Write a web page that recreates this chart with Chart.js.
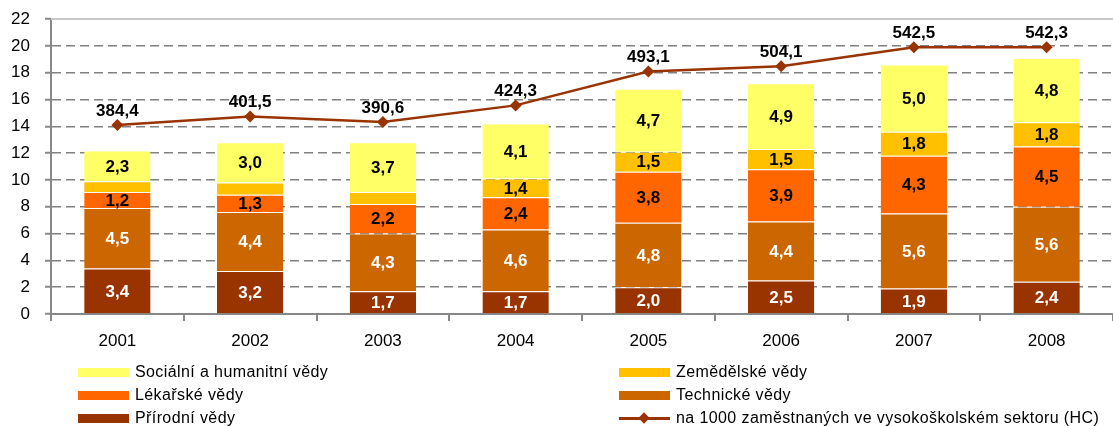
<!DOCTYPE html>
<html>
<head>
<meta charset="utf-8">
<script src="https://cdn.jsdelivr.net/npm/chart.js@4.4.1/dist/chart.umd.min.js"></script>
<style>
    html, body { margin: 0; padding: 0; background: #fff; width: 1113px; height: 426px; overflow: hidden; }
    #wrap { position: relative; width: 1119px; height: 352px; }
    #legend { position: absolute; left: 0; top: 0; width: 1113px; height: 426px; pointer-events: none;
              font: 16px "Liberation Sans", Arial, sans-serif; letter-spacing: 0.4px; color: #000; }
    .leg-item { position: absolute; height: 20px; line-height: 20px; white-space: nowrap; }
    .leg-sw { position: absolute; left: 0; top: 6px; width: 51px; height: 9px; }
    .leg-line { position: absolute; left: 0; top: 9px; width: 51px; height: 3px; background: #993300; }
    .leg-dia { position: absolute; left: 21px; top: 6px; width: 8px; height: 8px; background: #993300; transform: rotate(45deg); }
    .leg-txt { position: absolute; left: 57px; top: 0; }
</style>
</head>
<body>
<div id="wrap"><canvas id="chartVedy" width="1119" height="352"></canvas></div>
<div id="legend"></div>
<script>
// Datos del gráfico
const roky = ['2001', '2002', '2003', '2004', '2005', '2006', '2007', '2008'];
const prirodniVedy = [3.4, 3.2, 1.7, 1.7, 2.0, 2.5, 1.9, 2.4];
const technickeVedy = [4.5, 4.4, 4.3, 4.6, 4.8, 4.4, 5.6, 5.6];
const lekarskeVedy = [1.2, 1.3, 2.2, 2.4, 3.8, 3.9, 4.3, 4.5];
const zemedelskeVedy = [0.8, 0.9, 0.9, 1.4, 1.5, 1.5, 1.8, 1.8];
const socialniVedy = [2.3, 3.0, 3.7, 4.1, 4.7, 4.9, 5.0, 4.8];
const na1000 = [384.4, 401.5, 390.6, 424.3, 493.1, 504.1, 542.5, 542.3];
const yTicks = [0, 2, 4, 6, 8, 10, 12, 14, 16, 18, 20, 22];

const FONT = '"Liberation Sans", Arial, sans-serif';

function fmt(v) { return v.toFixed(1).replace('.', ','); }

// Etiquetas de valores sobre barras y línea
const valueLabels = {
    id: 'valueLabels',
    afterDatasetsDraw(chart) {
        const ctx = chart.ctx;
        ctx.save();
        ctx.font = 'bold 17px ' + FONT;
        ctx.textAlign = 'center';
        ctx.textBaseline = 'middle';
        chart.data.datasets.forEach((ds, di) => {
            const meta = chart.getDatasetMeta(di);
            meta.data.forEach((el, i) => {
                const v = ds.data[i];
                if (ds.type === 'line') {
                    ctx.fillStyle = '#000';
                    ctx.fillText(fmt(v), el.x, el.y - 14);
                } else {
                    if (v < 1) return;
                    ctx.fillStyle = ds.labelColor;
                    ctx.fillText(fmt(v), el.x, (el.y + el.base) / 2 + 1);
                }
            });
        });
        ctx.restore();
    }
};

// Línea superior del área
const topBorder = {
    id: 'topBorder',
    beforeDatasetsDraw(chart) {
        const a = chart.chartArea, ctx = chart.ctx;
        ctx.save();
        ctx.strokeStyle = '#c8c8c8';
        ctx.lineWidth = 2;
        ctx.beginPath();
        ctx.moveTo(a.left, a.top);
        ctx.lineTo(a.right, a.top);
        ctx.stroke();
        ctx.restore();
    }
};

function barSet(label, data, color, labelColor) {
    return {
        type: 'bar', label: label, data: data, backgroundColor: color, labelColor: labelColor,
        borderColor: 'rgba(255,255,255,0.4)', borderWidth: { top: 1, bottom: 0, left: 0, right: 0 },
        barPercentage: 0.5, categoryPercentage: 1.0, yAxisID: 'y', order: 1
    };
}

const ctx = document.getElementById('chartVedy').getContext('2d');
const chart = new Chart(ctx, {
    data: {
        labels: roky,
        datasets: [
            barSet('Přírodní vědy', prirodniVedy, '#993300', '#fff'),
            barSet('Technické vědy', technickeVedy, '#CC6600', '#fff'),
            barSet('Lékařské vědy', lekarskeVedy, '#FF6600', '#000'),
            barSet('Zemědělské vědy', zemedelskeVedy, '#FFC000', '#000'),
            barSet('Sociální a humanitní vědy', socialniVedy, '#FFFF66', '#000'),
            {
                type: 'line', label: 'na 1000 zaměstnaných ve vysokoškolském sektoru (HC)',
                data: na1000, borderColor: '#993300', backgroundColor: '#993300', borderWidth: 2.5,
                pointStyle: 'rectRot', pointRadius: 6, pointBackgroundColor: '#993300', pointBorderWidth: 0,
                tension: 0, yAxisID: 'y2', order: 0
            }
        ]
    },
    options: {
        responsive: false,
        animation: false,
        layout: { padding: { top: 19, left: 0, right: 0, bottom: 0 } },
        plugins: { legend: { display: false }, tooltip: { enabled: false } },
        scales: {
            x: {
                stacked: true,
                grid: { offset: true, drawOnChartArea: false, drawTicks: true, tickLength: 7, color: '#888', lineWidth: 2 },
                border: { color: '#888', width: 2 },
                ticks: { font: { family: FONT, size: 17 }, color: '#000', padding: 10 },
                afterFit(s) { s.height = 38; }
            },
            y: {
                stacked: true, min: 0, max: 22,
                afterBuildTicks(s) { s.ticks = yTicks.map(v => ({ value: v })); },
                ticks: { font: { family: FONT, size: 17 }, color: '#000', padding: 15 },
                grid: {
                    color: c => (c.tick && c.tick.value === 22) ? '#c8c8c8' : '#808080',
                    lineWidth: 1.5, tickLength: 6, tickColor: '#888', tickWidth: 2
                },
                border: { dash: [9, 5], color: '#888', width: 2 },
                afterFit(s) { s.width = 51; s.paddingTop = 0; s.paddingBottom = 0; }
            },
            y2: { display: false, min: 0, max: 600 }
        }
    },
    plugins: [topBorder, valueLabels]
});

// Leyenda en dos columnas
const legendOrder = [4, 3, 2, 1, 0, 5];
const legendCols = [78, 619];
const legendRows = [362, 385, 408];
const legendEl = document.getElementById('legend');
legendOrder.forEach((di, k) => {
    const ds = chart.data.datasets[di];
    const item = document.createElement('div');
    item.className = 'leg-item';
    item.style.left = legendCols[k % 2] + 'px';
    item.style.top = legendRows[Math.floor(k / 2)] + 'px';
    if (ds.type === 'line') {
        item.innerHTML = '<span class="leg-line"></span><span class="leg-dia"></span>';
    } else {
        item.innerHTML = '<span class="leg-sw" style="background:' + ds.backgroundColor + '"></span>';
    }
    const txt = document.createElement('span');
    txt.className = 'leg-txt';
    txt.textContent = ds.label;
    item.appendChild(txt);
    legendEl.appendChild(item);
});
</script>
</body>
</html>
